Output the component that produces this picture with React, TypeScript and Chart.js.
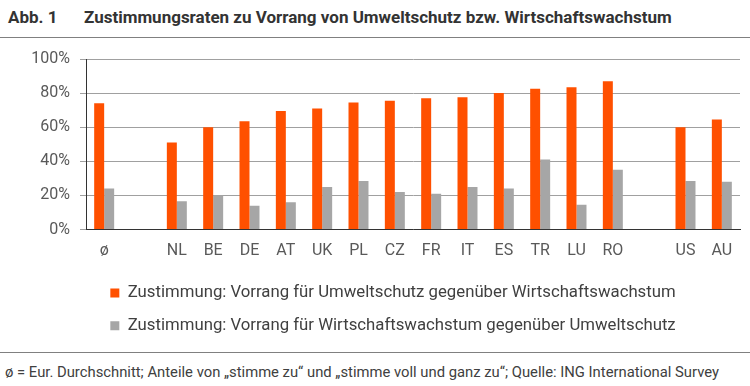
import React, { useEffect, useRef } from "react";
import { Chart, registerables } from "chart.js";

Chart.register(...registerables);

const categories = ["ø", "", "NL", "BE", "DE", "AT", "UK", "PL", "CZ", "FR", "IT", "ES", "TR", "LU", "RO", "", "US", "AU"];
const umweltschutz = [74, null, 51, 60, 63.5, 69.5, 71, 74.5, 75.5, 77, 77.5, 80, 82.5, 83.5, 87, null, 60, 64.5];
const wachstum = [24, null, 16.5, 20, 14, 16, 25, 28.5, 22, 21, 25, 24, 41, 14.5, 35, null, 28.5, 28];
const yTicks = [0, 20, 40, 60, 80, 100];

const seriesLabels = [
  "Zustimmung: Vorrang für Umweltschutz gegenüber Wirtschaftswachstum",
  "Zustimmung: Vorrang für Wirtschaftswachstum gegenüber Umweltschutz",
];
const titleNum = "Abb. 1";
const titleText = "Zustimmungsraten zu Vorrang von Umweltschutz bzw. Wirtschaftswachstum";
const footnote = "ø = Eur. Durchschnitt; Anteile von „stimme zu“ und „stimme voll und ganz zu“; Quelle: ING International Survey";

const FONT = "Roboto, 'Open Sans', sans-serif";

const legendShift = {
  id: "legendShift",
  afterLayout(chart: any) {
    const lg = chart.legend;
    if (lg) {
      lg.left += 23;
      lg.right += 23;
    }
  },
};

export default function App() {
  const ref = useRef<HTMLCanvasElement | null>(null);
  useEffect(() => {
    if (!ref.current) return;
    const chart = new Chart(ref.current, {
      type: "bar",
      data: {
        labels: categories,
        datasets: [
          { label: seriesLabels[0], data: umweltschutz, backgroundColor: "#FF5000", borderWidth: 0 },
          { label: seriesLabels[1], data: wachstum, backgroundColor: "#A6A6A6", borderWidth: 0 },
        ],
      },
      plugins: [legendShift],
      options: {
        animation: false,
        responsive: false,
        maintainAspectRatio: false,
        layout: { padding: { top: 20, right: 10, left: 0, bottom: 0 } },
        datasets: { bar: { categoryPercentage: 0.55, barPercentage: 1 } },
        plugins: {
          tooltip: { enabled: false },
          legend: {
            position: "bottom",
            labels: {
              boxWidth: 9,
              boxHeight: 9,
              padding: 16,
              color: "#404040",
              font: { family: FONT, size: 16.75 },
            },
          },
        },
        scales: {
          x: {
            grid: { display: false, drawTicks: false },
            border: { display: true, color: "#333333", width: 1 },
            ticks: { color: "#595959", padding: 12, font: { family: FONT, size: 16 }, autoSkip: false, maxRotation: 0 },
            afterFit: (s: any) => { s.height = 39; },
          },
          y: {
            min: 0,
            max: 100,
            afterBuildTicks: (s: any) => { s.ticks = yTicks.map((v) => ({ value: v })); },
            grid: { color: "#A0A0A0", lineWidth: 1, drawTicks: true, tickLength: 6 },
            border: { display: true, color: "#333333", width: 1 },
            ticks: {
              color: "#595959",
              padding: 10,
              font: { family: FONT, size: 16 },
              callback: (v: any) => v + "%",
            },
            afterFit: (s: any) => { s.width = 86; },
          },
        },
      },
    });
    return () => chart.destroy();
  }, []);

  return (
    <div style={{ width: 750, height: 386, position: "relative", background: "#fff", fontFamily: FONT }}>
      <style>{`body{margin:0}`}</style>
      <div style={{ position: "absolute", left: 8, top: 7, fontSize: 17, fontWeight: 700, color: "#333", whiteSpace: "nowrap" }}>{titleNum}</div>
      <div style={{ position: "absolute", left: 84, top: 7, fontSize: 17, fontWeight: 700, color: "#333", whiteSpace: "nowrap" }}>{titleText}</div>
      <div style={{ position: "absolute", left: 0, top: 37, width: 750, height: 1, background: "#808080" }} />
      <canvas ref={ref} width={750} height={305} style={{ position: "absolute", left: 0, top: 39, width: 750, height: 305 }} />
      <div style={{ position: "absolute", left: 0, top: 352, width: 750, height: 1, background: "#808080" }} />
      <div style={{ position: "absolute", left: 5, top: 363, fontSize: 14.8, color: "#404040", whiteSpace: "nowrap" }}>{footnote}</div>
    </div>
  );
}
